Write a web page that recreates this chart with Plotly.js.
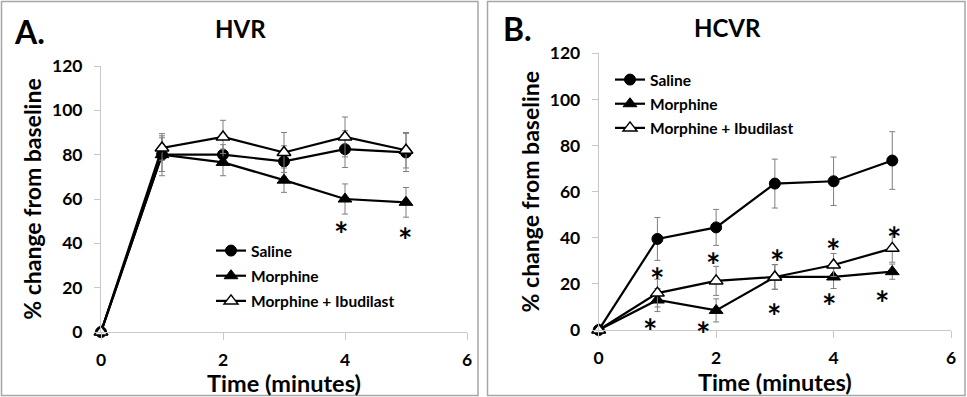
<!DOCTYPE html>
<html>
<head>
<meta charset="utf-8">
<script src="https://cdn.plot.ly/plotly-3.0.1.min.js"></script>
<style>html,body{margin:0;padding:0;background:#fff;}#chart{width:967px;height:397px;}</style>
</head>
<body>
<div id="chart"></div>
<script>
// ---- data ----
const time = [0, 1, 2, 3, 4, 5];
const seriesNames = ["Saline", "Morphine", "Morphine + Ibudilast"];

// Panel A: HVR
const hvrSaline = [0, 80, 80, 77, 82.5, 81];
const hvrSalineErr = [0, 9.5, 4.5, 7, 8.3, 8.6];
const hvrMorphine = [0, 80, 76.5, 68.5, 60, 58.5];
const hvrMorphineErr = [0, 7.6, 6, 5.5, 6.8, 6.7];
const hvrIbud = [0, 83, 88, 81, 88, 82];
const hvrIbudErr = [0, 5.5, 7.5, 9, 9, 8];

// Panel B: HCVR
const hcvrSaline = [0, 39.5, 44.5, 63.5, 64.5, 73.5];
const hcvrSalineErr = [0, 9.3, 7.8, 10.6, 10.5, 12.5];
const hcvrMorphine = [0, 13, 8.5, 23, 23, 25.3];
const hcvrMorphineErr = [0, 5, 5, 5.3, 5, 3.3];
const hcvrIbud = [0, 16, 21.3, 23, 28.2, 35.4];
const hcvrIbudErr = [0, 6, 6.3, 5.4, 5, 6];

// significance markers (*)
const starsAx = [3.94, 4.99];
const starsAy = [48.3, 46];
const starsBx = [0.99, 0.88, 1.95, 1.78, 3.03, 2.98, 3.99, 3.92, 5.03, 4.83];
const starsBy = [26, 3.6, 32.5, 2.2, 33.5, 10.4, 38.3, 14.7, 43.4, 15.9];

const xTicks = [0, 2, 4, 6];
const yTicks = [0, 20, 40, 60, 80, 100, 120];

// ---- styling ----
const W = 967, H = 397;
const FONT = "Lato, 'Open Sans', sans-serif";
const errStyle = (arr) => ({type: 'data', array: arr, visible: true, color: '#7f7f7f', thickness: 1, width: 3});
const styles = [
  {symbol: 'circle', color: '#000', line: {color: '#000', width: 1}, size: 11},
  {symbol: 'triangle-up', color: '#000', line: {color: '#000', width: 1}, size: 12},
  {symbol: 'triangle-up', color: '#fff', line: {color: '#000', width: 1.5}, size: 12}
];

function mk(ys, errs, i, xa, ya, leg) {
  return {
    x: time, y: ys, type: 'scatter', mode: 'lines+markers',
    name: seriesNames[i], legendgroup: leg + i, legend: leg,
    xaxis: xa, yaxis: ya, cliponaxis: false,
    line: {color: '#000', width: 2.2},
    marker: styles[i],
    error_y: errStyle(errs)
  };
}

const traces = [
  mk(hvrSaline, hvrSalineErr, 0, 'x', 'y', 'legend'),
  mk(hvrMorphine, hvrMorphineErr, 1, 'x', 'y', 'legend'),
  mk(hvrIbud, hvrIbudErr, 2, 'x', 'y', 'legend'),
  mk(hcvrSaline, hcvrSalineErr, 0, 'x2', 'y2', 'legend2'),
  mk(hcvrMorphine, hcvrMorphineErr, 1, 'x2', 'y2', 'legend2'),
  mk(hcvrIbud, hcvrIbudErr, 2, 'x2', 'y2', 'legend2')
];

const tickFont = () => ({family: FONT, size: 17.5, color: '#000', weight: 'bold'});
const titleFont = (s) => ({family: FONT, size: s, color: '#000', weight: 'bold'});
const boldLabel = (v) => '<b>' + v + '</b>';

function xax(domain, anchor) {
  return {
    domain: domain, range: [0, 6], tickmode: 'array', tickvals: xTicks, ticktext: xTicks.map(boldLabel),
    showgrid: false, zeroline: false, showline: true, linecolor: '#c8c8c8', linewidth: 1,
    ticks: 'outside', ticklen: 7, tickcolor: '#c8c8c8', tickwidth: 1, anchor: anchor,
    tickfont: tickFont(), ticklabelstandoff: 5, fixedrange: true,
    title: {text: '<b>Time (minutes)</b>', font: titleFont(23.5), standoff: 1}
  };
}
function yax(domain, anchor) {
  return {
    domain: domain, range: [0, 120], tickmode: 'array', tickvals: yTicks, ticktext: yTicks.map(boldLabel),
    showgrid: false, zeroline: false, showline: true, linecolor: '#c8c8c8', linewidth: 1,
    ticks: 'outside', ticklen: 6, tickcolor: '#c8c8c8', tickwidth: 1,
    tickfont: tickFont(), ticklabelstandoff: 8, fixedrange: true, anchor: anchor,
    title: {text: '<b>% change from baseline</b>', font: titleFont(23), standoff: 3}
  };
}

const annotations = [];
function addStar(x, y, xr, yr) {
  annotations.push({x: x, y: y, xref: xr, yref: yr, text: '<b>*</b>', showarrow: false,
    font: {family: FONT, size: 34, color: '#000', weight: 'bold'}, yshift: -9});
}
starsAx.forEach((x, i) => addStar(x, starsAy[i], 'x', 'y'));
starsBx.forEach((x, i) => addStar(x, starsBy[i], 'x2', 'y2'));

function paperText(text, px, py, size, xanchor) {
  annotations.push({text: '<b>' + text + '</b>', x: px / W, y: 1 - py / H, xref: 'paper', yref: 'paper',
    showarrow: false, xanchor: xanchor || 'center', yanchor: 'middle',
    font: {family: FONT, size: size, color: '#000', weight: 'bold'}});
}
paperText('A.', 12, 31, 32, 'left');
paperText('HVR', 240, 29, 24);
paperText('B.', 501, 29, 32, 'left');
paperText('HCVR', 727, 28, 24);

const border = (x0, x1) => ({type: 'rect', xref: 'paper', yref: 'paper',
  x0: x0 / W, x1: x1 / W, y0: 1 - 395.5 / H, y1: 1 - 1.5 / H,
  line: {color: '#a6a6a6', width: 1.5}, fillcolor: 'rgba(0,0,0,0)'});

const legendFont = {family: FONT, size: 15.5, color: '#000', weight: 'bold'};
const layout = {
  width: W, height: H,
  margin: {l: 0, r: 0, t: 0, b: 0},
  paper_bgcolor: '#fff', plot_bgcolor: '#fff',
  showlegend: true,
  xaxis: xax([101 / W, 467 / W], 'y'),
  yaxis: yax([1 - 332 / H, 1 - 66 / H], 'x'),
  xaxis2: xax([598.7 / W, 951 / W], 'y2'),
  yaxis2: yax([1 - 330 / H, 1 - 53.3 / H], 'x2'),
  legend: {x: 211 / W, y: 1 - 234 / H, xanchor: 'left', yanchor: 'top',
    bgcolor: 'rgba(0,0,0,0)', borderwidth: 0, font: legendFont,
    tracegroupgap: 2, traceorder: 'grouped', itemwidth: 30},
  legend2: {x: 610 / W, y: 1 - 63 / H, xanchor: 'left', yanchor: 'top',
    bgcolor: 'rgba(0,0,0,0)', borderwidth: 0, font: legendFont,
    tracegroupgap: 1, traceorder: 'grouped', itemwidth: 30},
  shapes: [border(1.5, 478), border(487.5, 965)],
  annotations: annotations
};

Plotly.newPlot('chart', traces, layout, {displayModeBar: false, staticPlot: true});
</script>
</body>
</html>
